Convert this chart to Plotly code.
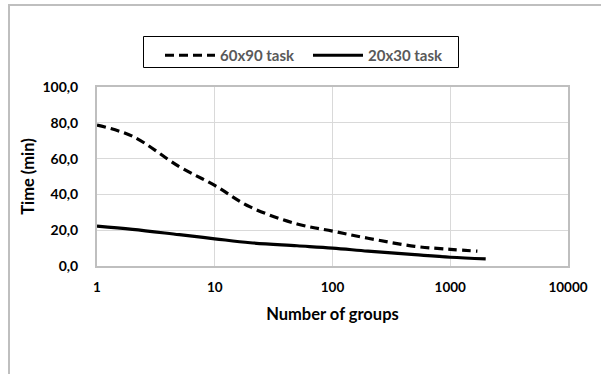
import plotly.graph_objects as go

groups_60x90 = [1, 2, 5, 10, 20, 50, 100, 200, 500, 1000, 1700]
time_60x90 = [78.7, 72.5, 55.5, 45.0, 33.0, 23.5, 19.5, 15.5, 11.0, 9.3, 8.3]
groups_20x30 = [1, 2, 5, 10, 20, 50, 100, 200, 500, 1000, 2000]
time_20x30 = [22.3, 20.5, 17.5, 15.2, 13.0, 11.3, 10.0, 8.3, 6.3, 4.9, 4.0]
x_ticks = [1, 10, 100, 1000, 10000]
y_ticks = [0, 20, 40, 60, 80, 100]

FONT = "Lato"
W, H = 601, 374
L, R, T, B = 97, 33, 87, 108
pw, ph = W - L - R, H - T - B

def px_x(p):
    return (p - L) / pw

def px_y(p):
    return (H - B - p) / ph

fig = go.Figure()
fig.add_trace(go.Scatter(x=groups_60x90, y=time_60x90, mode="lines", name="60x90 task",
                         line=dict(color="black", width=3.2, dash="9px,5px", shape="spline")))
fig.add_trace(go.Scatter(x=groups_20x30, y=time_20x30, mode="lines", name="20x30 task",
                         line=dict(color="black", width=3.2, shape="spline")))

fig.update_layout(
    width=W, height=H,
    margin=dict(l=L, r=R, t=T, b=B),
    paper_bgcolor="white", plot_bgcolor="white",
    separators=",.",
    font=dict(family=FONT, color="black"),
    showlegend=True,
    legend=dict(orientation="h", x=px_x(160), y=px_y(39), xanchor="left", yanchor="top",
                borderwidth=0, bgcolor="rgba(0,0,0,0)",
                font=dict(family=FONT, size=15, color="#595959", weight="bold"),
                entrywidth=83, itemwidth=50, tracegroupgap=0),
    xaxis=dict(type="log", range=[0, 4], tickvals=x_ticks, ticktext=[str(v) for v in x_ticks],
               showgrid=True, gridcolor="#d9d9d9", gridwidth=1,
               showline=True, linecolor="#bfbfbf", linewidth=2, mirror=True,
               ticks="", ticklabelstandoff=8,
               tickfont=dict(family=FONT, size=13.5, color="black", weight="bold"),
               title=dict(text="Number of groups", font=dict(family=FONT, size=16.5, color="black", weight="bold"),
                          standoff=14)),
    yaxis=dict(range=[0, 100], tickvals=y_ticks, ticktext=[f"{v:.1f}".replace(".", ",") for v in y_ticks],
               showgrid=True, gridcolor="#d9d9d9", gridwidth=1,
               showline=True, linecolor="#bfbfbf", linewidth=2, mirror=True,
               ticks="", ticklabelstandoff=14,
               tickfont=dict(family=FONT, size=14, color="black", weight="bold"),
               title=dict(text="Time (min)", font=dict(family=FONT, size=16.5, color="black", weight="bold"),
                          standoff=4)),
)

# figure border
fig.add_shape(type="rect", xref="paper", yref="paper",
              x0=px_x(9), x1=px_x(W + 5), y0=px_y(H + 5), y1=px_y(5),
              line=dict(color="#bfbfbf", width=2), fillcolor="rgba(0,0,0,0)", layer="below")
# legend frame
fig.add_shape(type="rect", xref="paper", yref="paper",
              x0=px_x(143.5), x1=px_x(458.5), y0=px_y(67.5), y1=px_y(36.5),
              line=dict(color="black", width=1), fillcolor="rgba(0,0,0,0)", layer="below")

fig.write_html("out.html")
